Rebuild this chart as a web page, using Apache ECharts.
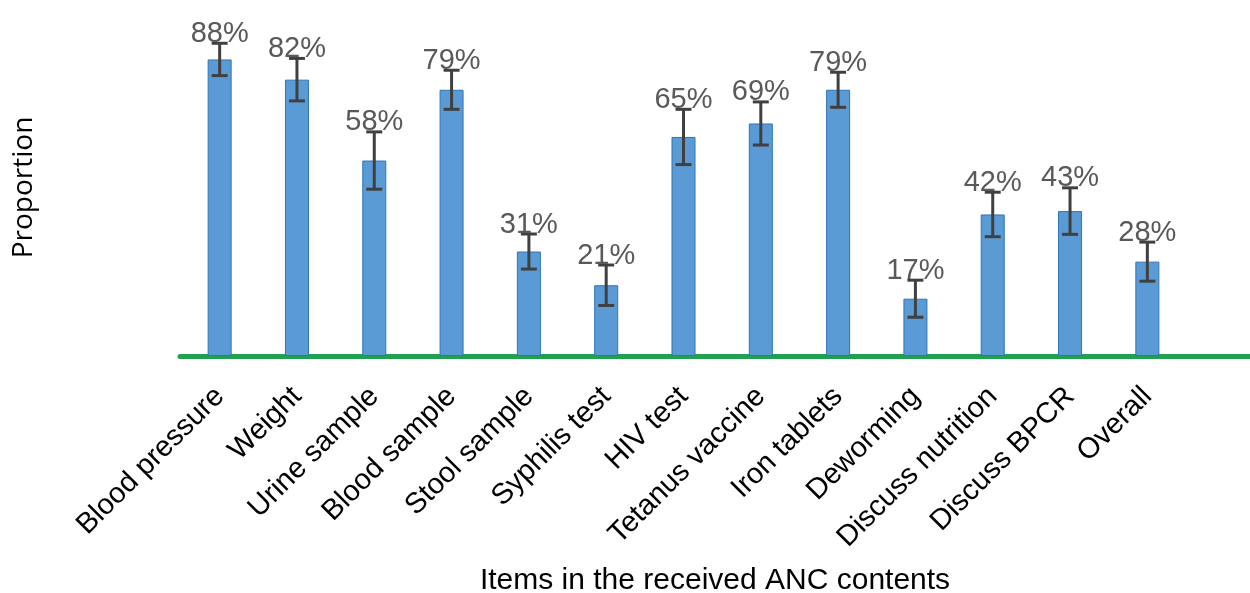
<!DOCTYPE html>
<html><head><meta charset="utf-8">
<script src="https://cdn.jsdelivr.net/npm/echarts@6/dist/echarts.min.js"></script>
<style>html,body{margin:0;padding:0;background:#fff}#c{width:1250px;height:593px}</style>
</head><body><div id="c"></div>
<script>
const categories = ['Blood pressure','Weight','Urine sample','Blood sample','Stool sample','Syphilis test','HIV test','Tetanus vaccine','Iron tablets','Deworming','Discuss nutrition','Discuss BPCR','Overall'];
const proportions = [88,82,58,79,31,21,65,69,79,17,42,43,28];
const errorMargins = [4.8,6.3,8.5,5.8,5.2,6.0,8.2,6.4,5.2,5.5,6.6,6.9,5.8];
const labelTexts = ['88%','82%','58%','79%','31%','21%','65%','69%','79%','17%','42%','43%','28%'];

const chart = echarts.init(document.getElementById('c'), null, {renderer:'canvas'});
const errData = proportions.map((v,i)=>[i, v, errorMargins[i]]);
chart.setOption({
  animation:false,
  backgroundColor:'#fff',
  grid:[
    {left:181, right:64, top:19, bottom:237, outerBoundsMode:'none', containLabel:false},
    {left:180, right:0, top:19, bottom:237, outerBoundsMode:'none', containLabel:false}
  ],
  xAxis:[
    {type:'category', gridIndex:0, data:categories,
     axisLine:{show:false}, axisTick:{show:false},
     axisLabel:{interval:0, rotate:45, margin:36, fontSize:29, color:'#000', fontFamily:'Liberation Sans, Arial, sans-serif'}},
    {type:'value', gridIndex:1, min:0, max:1,
     axisLine:{show:true, onZero:false, lineStyle:{color:'#21A14F', width:5}},
     axisTick:{show:false}, axisLabel:{show:false}, splitLine:{show:false},
     name:'Items in the received ANC contents', nameLocation:'middle', nameGap:210,
     nameTextStyle:{fontSize:30, color:'#000', fontFamily:'Liberation Sans, Arial, sans-serif'}}
  ],
  yAxis:[
    {type:'value', gridIndex:0, min:0, max:100,
     axisLine:{show:false}, axisTick:{show:false}, axisLabel:{show:false}, splitLine:{show:false},
     name:'Proportion', nameLocation:'middle', nameRotate:90, nameGap:143,
     nameTextStyle:{fontSize:28, color:'#000', fontFamily:'Open Sans, Noto Sans, sans-serif'}},
    {type:'value', gridIndex:1, min:0, max:1, show:false}
  ],
  series:[
    {type:'bar', xAxisIndex:0, yAxisIndex:0, data:proportions, barWidth:24,
     itemStyle:{color:'#5B9BD5', borderColor:'#2E75B6', borderWidth:1}, z:2},
    {type:'custom', xAxisIndex:0, yAxisIndex:0, data:errData, z:3,
     encode:{x:0, y:1},
     renderItem:function(params, api){
       const i = api.value(0), v = api.value(1), e = api.value(2);
       const top = api.coord([i, v+e]);
       const bot = api.coord([i, v-e]);
       const cw = 8;
       const st = {stroke:'#404040', lineWidth:3};
       return {type:'group', children:[
         {type:'line', shape:{x1:top[0], y1:top[1], x2:bot[0], y2:bot[1]}, style:st},
         {type:'line', shape:{x1:top[0]-cw, y1:top[1], x2:top[0]+cw, y2:top[1]}, style:st},
         {type:'line', shape:{x1:bot[0]-cw, y1:bot[1], x2:bot[0]+cw, y2:bot[1]}, style:st},
         {type:'text', x:top[0], y:top[1]+5, style:{text:labelTexts[params.dataIndex], fill:'#595959', fontSize:29, fontFamily:'Liberation Sans, Arial, sans-serif', align:'center', verticalAlign:'bottom'}}
       ]};
     }}
  ]
});
</script></body></html>
